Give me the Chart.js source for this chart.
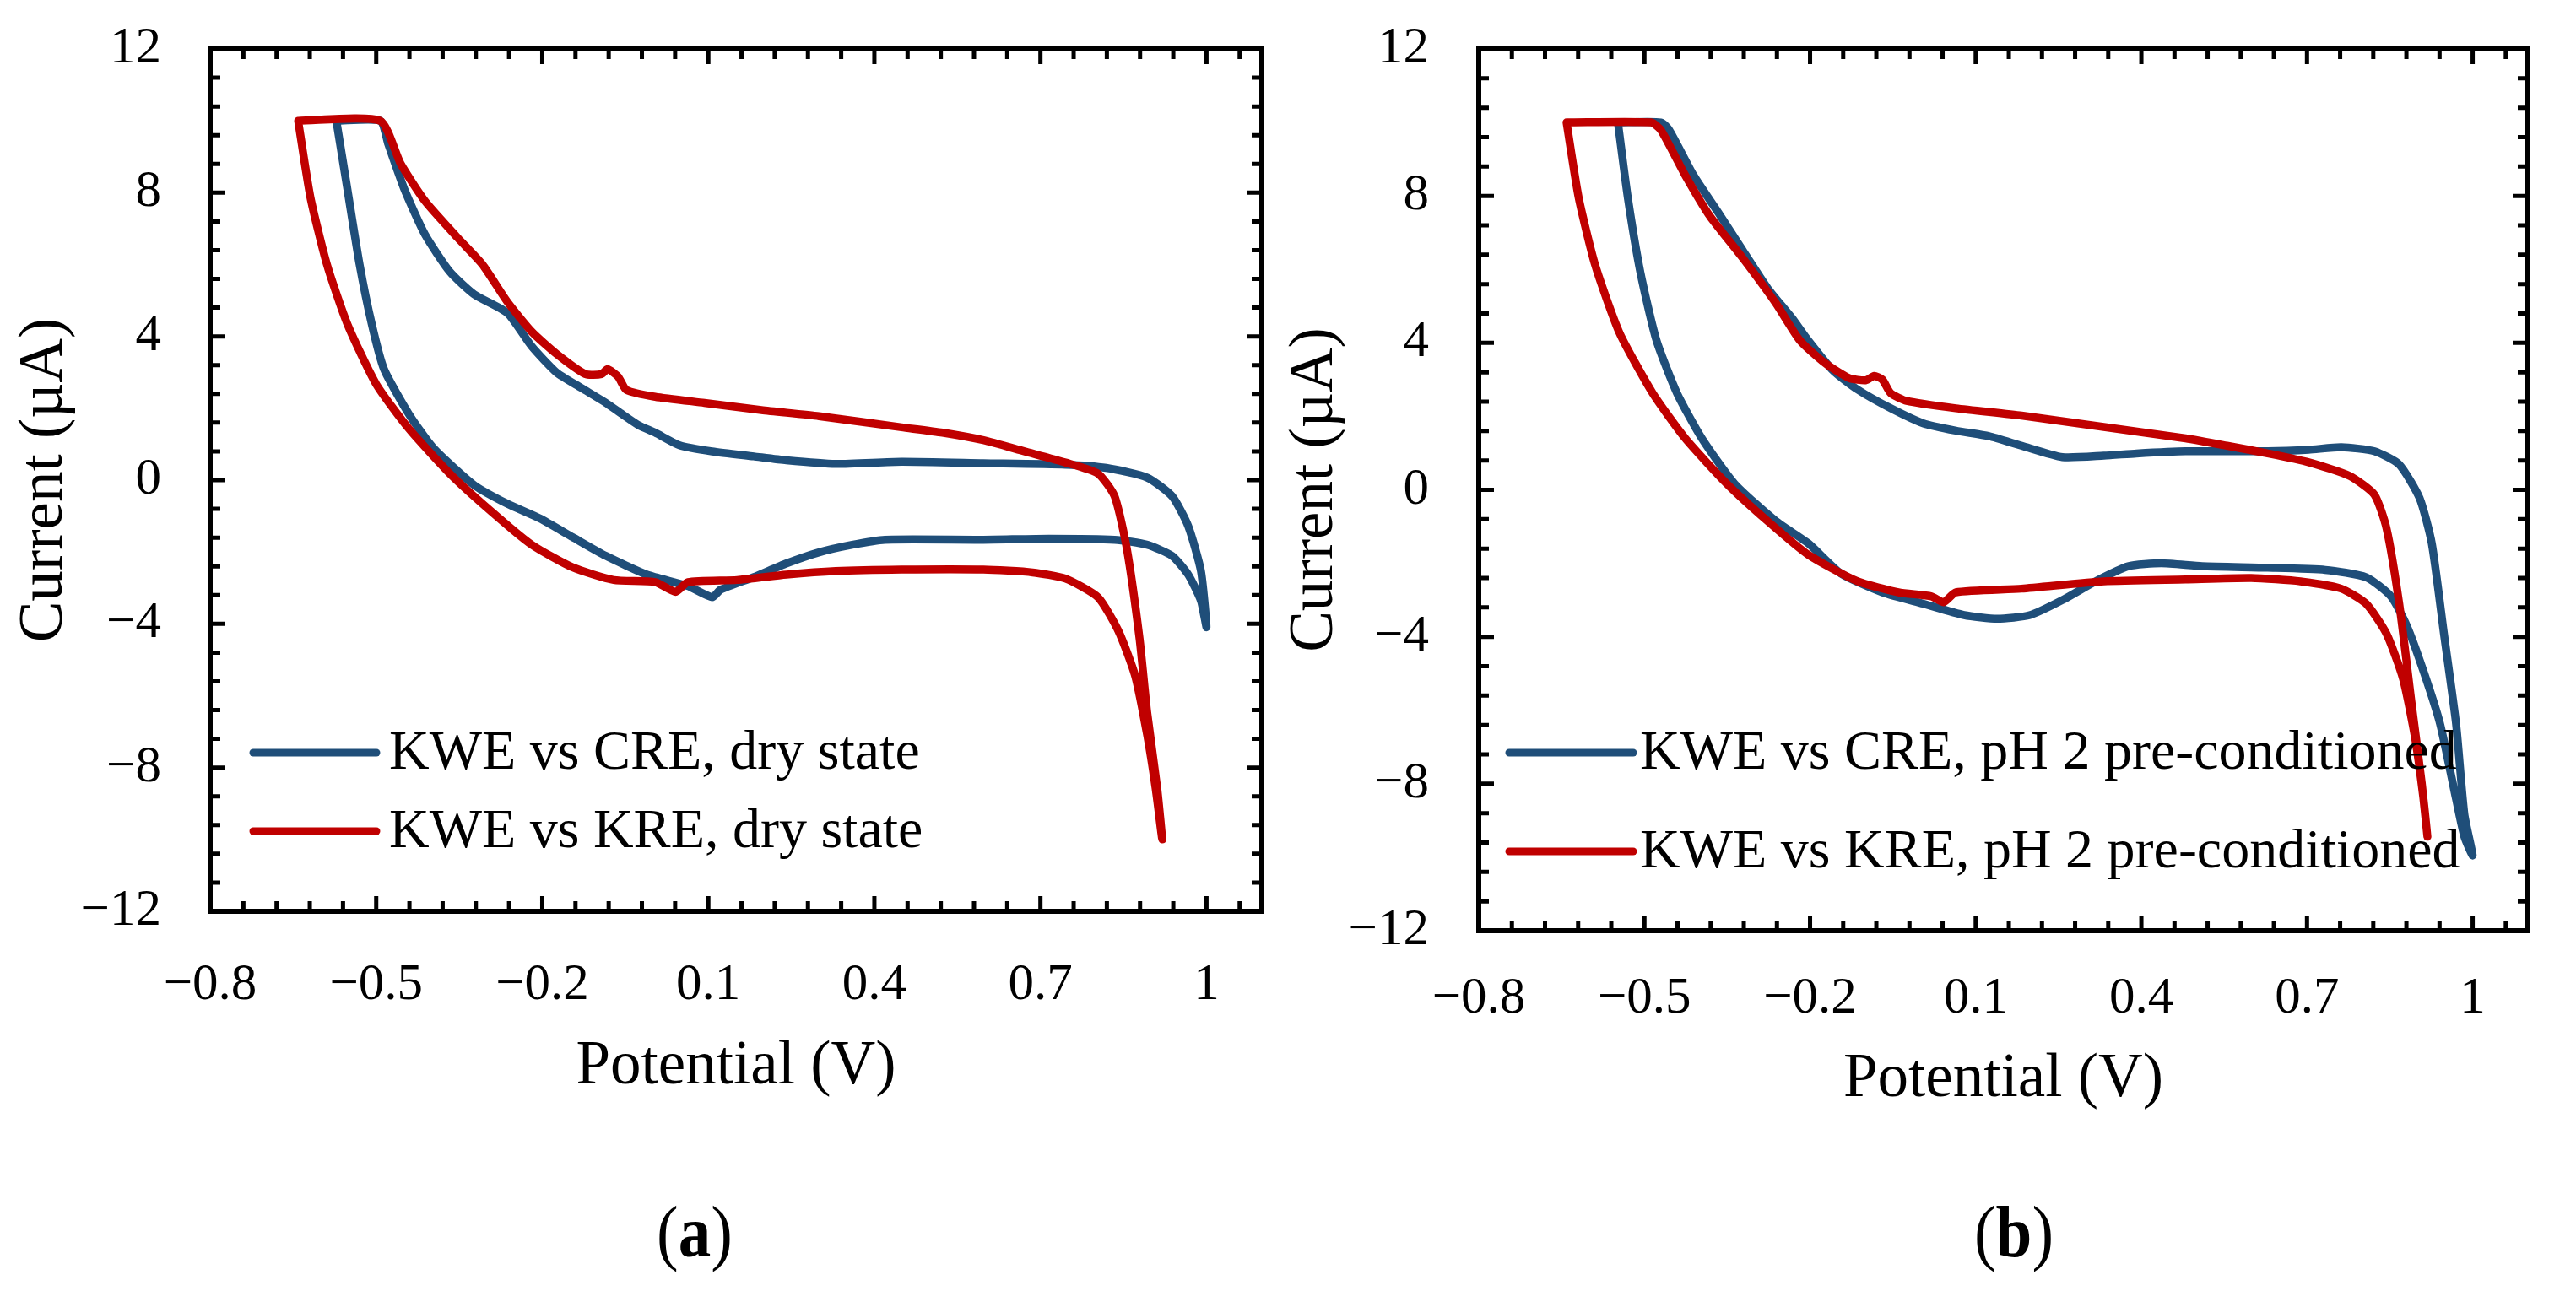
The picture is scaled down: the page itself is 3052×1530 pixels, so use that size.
<!DOCTYPE html>
<html><head><meta charset="utf-8">
<script src="https://cdn.jsdelivr.net/npm/chart.js@4.4.0/dist/chart.umd.min.js"></script>
<style>
html,body{margin:0;padding:0;background:#fff;width:3052px;height:1530px;overflow:hidden}
.wrap{position:absolute;top:0;width:1526px;height:1400px}
canvas{display:block}
.cap{position:absolute;font-family:"Liberation Serif","Times New Roman",serif;font-size:77px;line-height:1;color:#000;transform:translate(-50%,-50%) scaleY(1.12);white-space:nowrap}
.cap b{font-weight:bold}
</style></head><body>
<div class="wrap" style="left:0"><canvas id="ca" width="1526" height="1400"></canvas></div>
<div class="wrap" style="left:1526px"><canvas id="cb" width="1526" height="1400"></canvas></div>
<div class="cap" style="left:823px;top:1460px">(<b>a</b>)</div>
<div class="cap" style="left:2386px;top:1460px">(<b>b</b>)</div>
<script>
// ---- axis ticks ----
const xTickValues = [-0.8, -0.5, -0.2, 0.1, 0.4, 0.7, 1.0];
const xTickLabels = ['\u22120.8', '\u22120.5', '\u22120.2', '0.1', '0.4', '0.7', '1'];
const yTickValues = [-12, -8, -4, 0, 4, 8, 12];
const yTickLabels = ['\u221212', '\u22128', '\u22124', '0', '4', '8', '12'];

// ---- series labels ----
const seriesLabelsA = ['KWE vs CRE, dry state', 'KWE vs KRE, dry state'];
const seriesLabelsB = ['KWE vs CRE, pH 2 pre-conditioned', 'KWE vs KRE, pH 2 pre-conditioned'];

// ---- (a) KWE vs CRE, dry state : potential (V) / current (uA) ----
const aCreV = [-0.572,-0.552,-0.530,-0.508,-0.486,-0.441,-0.397,-0.323,-0.263,-0.204,
  -0.145,-0.085,-0.011,0.063,0.107,0.122,0.182,0.241,0.300,0.360,
  0.419,0.597,0.715,0.834,0.893,0.938,0.967,0.990,1.000,
  0.990,0.967,0.938,0.893,0.819,0.745,0.597,0.449,0.330,0.241,
  0.182,0.107,0.048,0.004,-0.026,-0.056,-0.085,-0.130,-0.174,-0.219,
  -0.263,-0.323,-0.367,-0.412,-0.449,-0.478,-0.493,-0.572];
const aCreI = [10,8.09,6.0,4.34,3.09,1.84,0.90,-0.14,-0.66,-1.07,
  -1.59,-2.11,-2.63,-2.95,-3.26,-3.05,-2.70,-2.32,-2.01,-1.80,
  -1.66,-1.66,-1.63,-1.66,-1.80,-2.11,-2.63,-3.36,-4.09,
  -2.53,-1.28,-0.45,0.07,0.34,0.43,0.47,0.51,0.45,0.55,
  0.66,0.80,0.97,1.32,1.53,1.84,2.15,2.57,2.99,3.72,
  4.65,5.17,5.80,6.84,8.09,9.34,10,10];

// ---- (a) KWE vs KRE, dry state ----
const aKreV = [-0.641,-0.619,-0.589,-0.552,-0.500,-0.441,-0.367,-0.293,-0.219,-0.145,
  -0.071,0.004,0.041,0.063,0.152,0.241,0.330,0.449,0.597,0.686,
  0.745,0.804,0.841,0.871,0.893,0.908,0.920,
  0.911,0.893,0.879,0.856,0.834,0.804,0.745,0.671,0.597,0.523,
  0.449,0.300,0.196,0.093,0.004,-0.048,-0.063,-0.082,-0.093,-0.122,
  -0.174,-0.219,-0.263,-0.308,-0.352,-0.412,-0.456,-0.493,-0.641];
const aKreI = [10,7.88,6.0,4.34,2.67,1.43,0.18,-0.86,-1.80,-2.43,
  -2.78,-2.84,-3.11,-2.84,-2.78,-2.63,-2.53,-2.49,-2.49,-2.57,
  -2.74,-3.26,-4.20,-5.44,-7.11,-8.57,-10.0,
  -8.57,-6.48,-4.40,-1.90,-0.45,0.18,0.49,0.80,1.11,1.32,
  1.47,1.78,1.95,2.15,2.32,2.51,2.88,3.09,2.95,2.95,
  3.51,4.13,4.96,6.0,6.73,7.77,8.81,10,10];

// ---- (b) KWE vs CRE, pH 2 pre-conditioned ----
const bCreV = [-0.548,-0.530,-0.507,-0.478,-0.441,-0.396,-0.337,-0.262,-0.203,-0.144,
  -0.069,0.005,0.079,0.139,0.198,0.257,0.317,0.376,0.436,0.510,
  0.629,0.733,0.807,0.852,0.881,0.911,0.941,0.970,0.985,1.000,
  0.985,0.970,0.948,0.926,0.904,0.867,0.822,0.762,0.703,0.629,
  0.480,0.391,0.332,0.257,0.183,0.124,0.064,0.005,-0.054,-0.114,
  -0.158,-0.203,-0.233,-0.277,-0.322,-0.366,-0.411,-0.455,-0.470,-0.548];
const bCreI = [10,7.95,5.90,4.06,2.63,1.40,0.17,-0.85,-1.46,-2.28,
  -2.79,-3.10,-3.41,-3.51,-3.41,-3.00,-2.49,-2.08,-2.0,-2.08,
  -2.12,-2.18,-2.38,-2.90,-3.71,-4.94,-6.37,-8.42,-9.44,-9.95,
  -8.83,-6.37,-3.92,-1.46,-0.23,0.69,1.05,1.16,1.09,1.05,
  1.05,0.99,0.93,0.89,1.20,1.46,1.61,1.81,2.22,2.73,
  3.24,4.06,4.68,5.49,6.52,7.54,8.56,9.79,10,10];

// ---- (b) KWE vs KRE, pH 2 pre-conditioned ----
const bKreV = [-0.641,-0.619,-0.589,-0.545,-0.485,-0.426,-0.351,-0.277,-0.203,-0.114,
  -0.040,0.020,0.042,0.064,0.183,0.332,0.480,0.599,0.688,0.762,
  0.807,0.844,0.874,0.896,0.911,0.918,
  0.908,0.889,0.867,0.844,0.822,0.777,0.703,0.629,0.555,0.480,
  0.332,0.183,0.064,-0.025,-0.054,-0.069,-0.084,-0.099,-0.129,-0.173,
  -0.218,-0.262,-0.322,-0.381,-0.426,-0.470,-0.488,-0.641];
const bKreI = [10,7.95,6.11,4.27,2.63,1.40,0.17,-0.85,-1.77,-2.49,
  -2.79,-2.90,-3.06,-2.79,-2.69,-2.49,-2.44,-2.40,-2.49,-2.69,
  -3.10,-3.92,-5.15,-6.78,-8.42,-9.44,
  -8.01,-5.76,-3.10,-1.05,-0.13,0.38,0.75,0.99,1.20,1.40,
  1.71,2.02,2.22,2.42,2.63,3.0,3.10,2.98,3.04,3.45,
  4.06,5.08,6.31,7.44,8.56,9.79,10,10];

const BLUE = '#1F4E79';
const RED = '#C00000';
const FONT = '"Liberation Serif", "Times New Roman", serif';

// frame + inward ticks on all four sides
const frameTicks = {
  id: 'frameTicks',
  afterDatasetsDraw(chart) {
    const {ctx, chartArea: a, scales: {x, y}} = chart;
    const sub = 5, majorLen = 18, minorLen = 12;
    ctx.save();
    ctx.strokeStyle = '#000';
    ctx.lineWidth = 5;
    ctx.lineCap = 'butt';
    ctx.beginPath();
    const xv = x.ticks.map(t => t.value);
    const xs = (xv[1] - xv[0]) / sub;
    for (let i = 0; ; i++) {
      const v = xv[0] + i * xs;
      if (v > x.max + 1e-9) break;
      const p = x.getPixelForValue(v);
      const L = i % sub === 0 ? majorLen : minorLen;
      ctx.moveTo(p, a.bottom); ctx.lineTo(p, a.bottom - L);
      ctx.moveTo(p, a.top); ctx.lineTo(p, a.top + L);
    }
    const yv = y.ticks.map(t => t.value);
    const ys = (yv[1] - yv[0]) / sub;
    for (let i = 0; ; i++) {
      const v = yv[0] + i * ys;
      if (v > y.max + 1e-9) break;
      const p = y.getPixelForValue(v);
      const L = i % sub === 0 ? majorLen : minorLen;
      ctx.moveTo(a.left, p); ctx.lineTo(a.left + L, p);
      ctx.moveTo(a.right, p); ctx.lineTo(a.right - L, p);
    }
    ctx.stroke();
    ctx.lineWidth = 6;
    ctx.strokeRect(a.left, a.top, a.right - a.left, a.bottom - a.top);
    ctx.restore();
  }
};

// legend drawn inside the plot area (lower left)
const cvLegend = {
  id: 'cvLegend',
  afterDraw(chart, args, opts) {
    const {ctx, chartArea: a} = chart;
    ctx.save();
    ctx.font = opts.fontSize + 'px ' + FONT;
    ctx.textBaseline = 'middle';
    ctx.textAlign = 'left';
    chart.data.datasets.forEach((ds, i) => {
      const yy = a.top + opts.rows[i];
      const x0 = a.left + opts.x0;
      ctx.strokeStyle = ds.borderColor;
      ctx.lineWidth = 9;
      ctx.lineCap = 'round';
      ctx.beginPath();
      ctx.moveTo(x0, yy); ctx.lineTo(x0 + opts.lineLen, yy);
      ctx.stroke();
      ctx.fillStyle = '#000';
      ctx.fillText(ds.label, x0 + opts.lineLen + opts.gap, yy + 2);
    });
    ctx.restore();
  }
};

function toPts(vs, is) { return vs.map((v, k) => ({x: v, y: is[k]})); }

function makeChart(id, labels, creV, creI, kreV, kreI, L) {
  const common = {showLine: true, pointRadius: 0, borderWidth: 9.5, tension: 0.2, fill: false,
    borderCapStyle: 'round', borderJoinStyle: 'round'};
  return new Chart(document.getElementById(id), {
    type: 'scatter',
    data: {
      datasets: [
        Object.assign({label: labels[0], data: toPts(creV, creI), borderColor: BLUE, backgroundColor: BLUE, order: 1}, common),
        Object.assign({label: labels[1], data: toPts(kreV, kreI), borderColor: RED, backgroundColor: RED, order: 0}, common)
      ]
    },
    options: {
      responsive: false, animation: false, devicePixelRatio: 1,
      events: [],
      layout: {padding: {left: 0, top: L.top, right: L.right, bottom: L.bottom}},
      plugins: {
        legend: {display: false}, tooltip: {enabled: false},
        cvLegend: L.legend
      },
      scales: {
        x: {
          type: 'linear', min: -0.8, max: 1.1,
          afterBuildTicks: s => { s.ticks = xTickValues.map(v => ({value: v})); },
          afterFit: s => { s.height = L.xh; s.paddingLeft = 0; s.paddingRight = 0; },
          grid: {display: false, drawTicks: false},
          border: {display: false},
          ticks: {color: '#000', font: {family: FONT, size: 61}, padding: L.xTickPad,
            autoSkip: false, maxRotation: 0, callback: (v, i) => xTickLabels[i]},
          title: {display: true, text: 'Potential (V)', color: '#000',
            font: {family: FONT, size: 73}, padding: {top: 0, bottom: L.xTitlePad}}
        },
        y: {
          type: 'linear', min: -12, max: 12,
          afterBuildTicks: s => { s.ticks = yTickValues.map(v => ({value: v})); },
          afterFit: s => { s.width = L.yw; s.paddingTop = 0; s.paddingBottom = 0; },
          grid: {display: false, drawTicks: false},
          border: {display: false},
          ticks: {color: '#000', font: {family: FONT, size: 61}, padding: L.yTickPad,
            autoSkip: false, callback: (v, i) => yTickLabels[i]},
          title: {display: true, text: 'Current (\u00B5A)', color: '#000',
            font: {family: FONT, size: 73, lineHeight: L.yTitleLH}, padding: {top: L.yTitlePad, bottom: 0}}
        }
      }
    },
    plugins: [frameTicks, cvLegend]
  });
}

makeChart('ca', seriesLabelsA, aCreV, aCreI, aKreV, aKreI, {
  top: 58, right: 31, bottom: 70, xh: 250, yw: 249,
  xTickPad: 51, xTitlePad: 21, yTickPad: 58, yTitlePad: 10, yTitleLH: 1.2,
  legend: {x0: 51, lineLen: 146, gap: 15, rows: [834, 927], fontSize: 66}
});
makeChart('cb', seriesLabelsB, bCreV, bCreI, bKreV, bKreI, {
  top: 58, right: 57, bottom: 47, xh: 250, yw: 226,
  xTickPad: 44, xTitlePad: 29, yTickPad: 59, yTitlePad: 0, yTitleLH: 0.9,
  legend: {x0: 36, lineLen: 147, gap: 8, rows: [834, 951], fontSize: 66}
});
</script>
</body></html>
